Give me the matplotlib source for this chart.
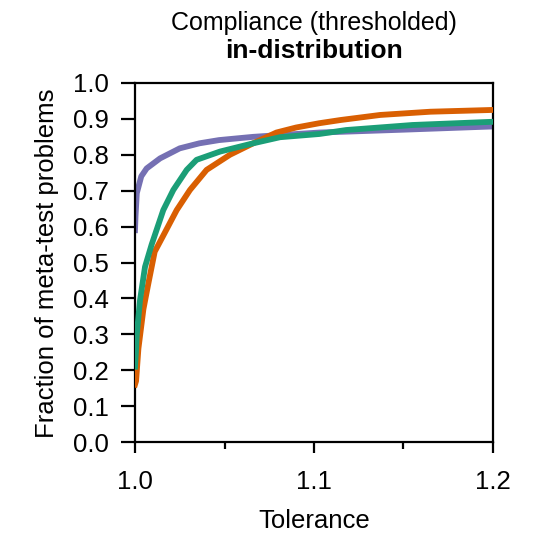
import numpy as np
import matplotlib.pyplot as plt
from matplotlib.ticker import MultipleLocator

plt.rcParams['font.family'] = ['Liberation Sans', 'DejaVu Sans']

# Curves (tolerance, fraction solved)
orange_x = [1.0, 1.0006, 1.0019, 1.0047, 1.0074, 1.011, 1.0158, 1.0233, 1.0307, 1.04,
            1.053, 1.066, 1.079, 1.09, 1.103, 1.115, 1.137, 1.165, 1.2]
orange_y = [0.16, 0.17, 0.26, 0.37, 0.44, 0.53, 0.575, 0.646, 0.702, 0.758,
            0.80, 0.832, 0.862, 0.876, 0.888, 0.897, 0.911, 0.920, 0.925]

green_x = [1.0, 1.0005, 1.001, 1.0028, 1.0056, 1.0093, 1.0158, 1.0214, 1.0289, 1.0344,
           1.0475, 1.066, 1.081, 1.103, 1.118, 1.155, 1.2]
green_y = [0.21, 0.25, 0.30, 0.395, 0.488, 0.55, 0.646, 0.702, 0.758, 0.786,
           0.809, 0.832, 0.849, 0.858, 0.869, 0.883, 0.892]

purple_x = [1.0, 1.0003, 1.001, 1.0035, 1.0065, 1.014, 1.025, 1.036, 1.047, 1.066,
            1.081, 1.103, 1.15, 1.2]
purple_y = [0.59, 0.63, 0.693, 0.74, 0.762, 0.79, 0.818, 0.832, 0.841, 0.850,
            0.855, 0.862, 0.870, 0.879]

x_ticks = [1.0, 1.1, 1.2]
y_ticks = [0.0, 0.1, 0.2, 0.3, 0.4, 0.5, 0.6, 0.7, 0.8, 0.9, 1.0]

W = 545
fig = plt.figure(figsize=(5.45, 5.45), dpi=100)
ax = fig.add_axes([135 / W, 1 - 442 / W, 358 / W, 359 / W])

ax.plot(purple_x, purple_y, color='#7570b3', lw=4.2, zorder=2)
ax.plot(orange_x, orange_y, color='#d95f02', lw=4.2, zorder=3)
ax.plot(green_x, green_y, color='#1b9e77', lw=4.2, zorder=4)

ax.set_xlim(1.0, 1.2)
ax.set_ylim(0.0, 1.0)
ax.set_xticks(x_ticks)
ax.set_xticklabels([f'{v:.1f}' for v in x_ticks])
ax.xaxis.set_minor_locator(MultipleLocator(0.05))
ax.set_yticks(y_ticks)
ax.set_yticklabels([f'{v:.1f}' for v in y_ticks])
ax.tick_params(axis='y', which='major', labelsize=18.5, width=1.6, length=10, pad=9)
ax.tick_params(axis='x', which='major', labelsize=18.5, width=1.6, length=8, pad=12)
ax.tick_params(axis='x', which='minor', width=1.6, length=5)
for s in ax.spines.values():
    s.set_linewidth(1.6)

fig.text(314 / W, 1 - 521 / W, 'Tolerance', ha='center', va='center', fontsize=18.5)
fig.text(47 / W, 1 - 263 / W, 'Fraction of meta-test problems', ha='center', va='center',
         rotation=90, fontsize=18.5)

fig.text(314 / W, 1 - 30 / W, 'Compliance (thresholded)', ha='center', va='baseline',
         fontsize=18)
fig.text(314 / W, 1 - 58 / W, 'in-distribution', ha='center', va='baseline',
         fontsize=19, fontweight='bold')

fig.savefig('out.png', dpi=100)
